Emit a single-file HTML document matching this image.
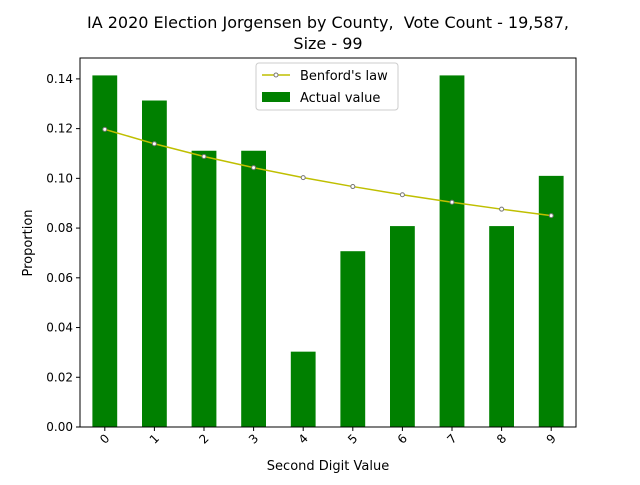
<!DOCTYPE html>
<html><head><meta charset="utf-8"><style>
body{margin:0;background:#fff;}
svg text{font-family:"DejaVu Sans","Liberation Sans",sans-serif;white-space:pre;}
</style></head><body>
<svg id="c" width="640" height="480" xmlns="http://www.w3.org/2000/svg">
<rect width="640" height="480" fill="#fff"/>
<text x="328" y="28" font-size="16" text-anchor="middle">IA 2020 Election Jorgensen by County,&#160; Vote Count - 19,587,</text>
<text x="328" y="49" font-size="16" text-anchor="middle">Size - 99</text>
<g id="bars"></g><g id="line"></g><g id="axes"></g>
<text x="328" y="470" font-size="13" text-anchor="middle">Second Digit Value</text>
<text x="32" y="243" font-size="13" text-anchor="middle" transform="rotate(-90 32 243)">Proportion</text>
<g>
<rect x="256" y="63" width="142" height="47" fill="#fff" fill-opacity="0.8" stroke="#ccc" rx="3"/>
<line x1="262" y1="75" x2="290" y2="75" stroke="#bfbf00" stroke-width="1.5"/>
<circle cx="276" cy="75" r="2" fill="#fff" stroke="#777" stroke-width="1"/>
<text x="300" y="80" font-size="13">Benford's law</text>
<rect x="262" y="92" width="28" height="10" fill="#008000"/>
<text x="300" y="102" font-size="13">Actual value</text>
</g>
</svg>
<script>
const categories=["0","1","2","3","4","5","6","7","8","9"];
const actual=[0.1414,0.1313,0.1111,0.1111,0.0303,0.0707,0.0808,0.1414,0.0808,0.1010];
const benford=[0.1197,0.1139,0.1088,0.1043,0.1003,0.0967,0.0934,0.0904,0.0876,0.0850];
const yTicks=[0,0.02,0.04,0.06,0.08,0.10,0.12,0.14];
const L=80,R=576,T=58,B=427,yMax=0.1484;
const ns="http://www.w3.org/2000/svg";
const step=(R-L)/categories.length;
const x=i=>L+step*(i+0.5);
const y=v=>B-(v/yMax)*(B-T);
function mk(t,a,p){const e=document.createElementNS(ns,t);for(const k in a)e.setAttribute(k,a[k]);p.appendChild(e);return e;}
const bars=document.getElementById('bars'),line=document.getElementById('line'),axes=document.getElementById('axes');
actual.forEach((v,i)=>{const r=mk('rect',{x:x(i)-12.4,y:y(v),width:24.8,height:B-y(v),fill:'#008000'},bars);

});
const pl=mk('polyline',{points:benford.map((v,i)=>x(i)+','+y(v)).join(' '),fill:'none',stroke:'#bfbf00','stroke-width':1.5},line);


benford.forEach((v,i)=>{const c=mk('circle',{cx:x(i),cy:y(v),r:2,fill:'#fff',stroke:'#777','stroke-width':1},line);

});
const fr=mk('rect',{x:L,y:T,width:R-L,height:B-T,fill:'none',stroke:'#000','stroke-width':1},axes);


yTicks.forEach(v=>{mk('line',{x1:L-4,x2:L,y1:y(v),y2:y(v),stroke:'#000'},axes);
const t=mk('text',{x:L-7,y:y(v)+4,'font-size':12,'text-anchor':'end'},axes);t.textContent=v.toFixed(2);

});
categories.forEach((c,i)=>{mk('line',{x1:x(i),x2:x(i),y1:B,y2:B+4,stroke:'#000'},axes);
const cx=x(i),cy=B+12;
const t=mk('text',{x:cx,y:cy+4,'font-size':12,'text-anchor':'middle',transform:`rotate(-45 ${cx} ${cy})`},axes);t.textContent=c;

});
</script>
</body></html>
